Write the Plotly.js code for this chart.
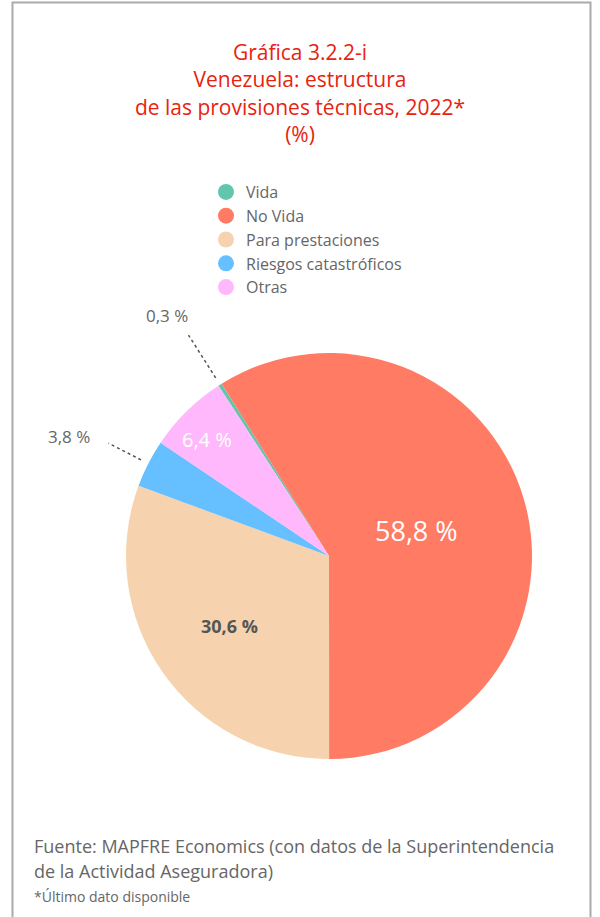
<!DOCTYPE html>
<html>
<head>
<meta charset="utf-8">
<script src="https://cdn.plot.ly/plotly-3.0.1.min.js"></script>
<style>html,body{margin:0;padding:0;background:#fff;}#chart{width:600px;height:917px;}</style>
</head>
<body>
<div id="chart"></div>
<script>
const categories = ['Vida', 'No Vida', 'Para prestaciones', 'Riesgos catastróficos', 'Otras'];
const values = [0.3, 58.8, 30.6, 3.8, 6.4];
const valueLabels = ['0,3 %', '58,8 %', '30,6 %', '3,8 %', '6,4 %'];
const colors = ['#62c6ad', '#ff7b64', '#f6d3ae', '#66bfff', '#ffb8fc'];

const titleText = 'Gráfica 3.2.2-i<br>Venezuela: estructura<br>de las provisiones técnicas, 2022*<br>(%)';
const sourceLines = ['Fuente: MAPFRE Economics (con datos de la Superintendencia', 'de la Actividad Aseguradora)'];
const noteText = '*Último dato disponible';

const W = 600, H = 917;
const CX = 329, CY = 556, R = 203;
const ROT = -33;
const FONT = '"Open Sans", Roboto, sans-serif';

// label style per slice: radius factor, angle offset, colour, size, weight
const labelR = [1.43, 0.45, 0.60, 1.41, 0.83];
const labelDA = [-1.5, 0, 0, -2.5, -1.8];
const labelColor = ['#666666', '#ffffff', '#555555', '#666666', '#ffffff'];
const labelSize = [17, 27, 18, 17, 20];
const labelBold = [false, false, true, false, false];
const leader = [[1.04, 1.29], null, null, [1.04, 1.22], null];

const total = values.reduce((a, b) => a + b, 0);
let acc = ROT;
const mids = values.map(v => { const a0 = acc; acc += 360 * v / total; return (a0 + acc) / 2; });
function pt(angDeg, r) {
  const a = angDeg * Math.PI / 180;
  return [(CX + r * Math.sin(a)) / W, 1 - (CY - r * Math.cos(a)) / H];
}

const annotations = [];
const shapes = [];
values.forEach((v, i) => {
  const p = pt(mids[i] + labelDA[i], labelR[i] * R);
  annotations.push({
    xref: 'paper', yref: 'paper', x: p[0], y: p[1], xanchor: 'center', yanchor: 'middle',
    text: labelBold[i] ? '<b>' + valueLabels[i] + '</b>' : valueLabels[i], showarrow: false,
    font: {family: FONT, size: labelSize[i], color: labelColor[i]}
  });
  if (leader[i]) {
    const a = pt(mids[i], leader[i][0] * R), b = pt(mids[i], leader[i][1] * R);
    shapes.push({type: 'line', xref: 'paper', yref: 'paper', x0: a[0], y0: a[1], x1: b[0], y1: b[1],
      line: {color: '#555555', width: 1.5, dash: 'dot'}});
  }
});

const footY = [846, 871];
sourceLines.forEach((t, i) => annotations.push({
  xref: 'paper', yref: 'paper', x: 32 / W, y: 1 - footY[i] / H, xanchor: 'left', yanchor: 'middle', align: 'left',
  text: t, showarrow: false, font: {family: FONT, size: 18, color: '#666666'}
}));
annotations.push({
  xref: 'paper', yref: 'paper', x: 32 / W, y: 1 - 896 / H, xanchor: 'left', yanchor: 'middle', align: 'left',
  text: noteText, showarrow: false, font: {family: FONT, size: 14, color: '#666666'}
});

// frame
shapes.push({type: 'rect', xref: 'paper', yref: 'paper', x0: 12.5 / W, x1: 590.5 / W, y0: -0.05, y1: 1 - 2.5 / H,
  line: {color: '#aaaaaa', width: 2}, layer: 'below'});

const pie = {
  type: 'pie', labels: categories, values: values, sort: false, direction: 'clockwise', rotation: ROT,
  marker: {colors: colors, line: {width: 0}}, textinfo: 'none', hoverinfo: 'label+percent', showlegend: false,
  domain: {x: [(CX - R) / W, (CX + R) / W], y: [1 - (CY + R) / H, 1 - (CY - R) / H]}
};

const legendTraces = categories.map((c, i) => ({
  type: 'scatter', mode: 'markers', x: [null], y: [null], name: c, legendgroup: 'g' + i,
  marker: {symbol: 'circle', size: 16, color: colors[i]}, hoverinfo: 'skip', showlegend: true
}));

const layout = {
  width: W, height: H, margin: {l: 0, r: 0, t: 0, b: 0},
  paper_bgcolor: '#ffffff', plot_bgcolor: 'rgba(0,0,0,0)',
  title: {text: titleText, x: 0.5, xanchor: 'center', y: 1 - 60 / H, yanchor: 'top',
    font: {family: FONT, size: 21, weight: 500, color: '#e8230f'}},
  xaxis: {visible: false, range: [0, 1]}, yaxis: {visible: false, range: [0, 1]},
  showlegend: true,
  legend: {x: 206 / W, xanchor: 'left', y: 1 - 175 / H, yanchor: 'top', bgcolor: 'rgba(0,0,0,0)',
    font: {family: FONT, size: 16, color: '#666666'}, tracegroupgap: 0, traceorder: 'normal'},
  annotations: annotations, shapes: shapes
};

Plotly.newPlot('chart', [pie].concat(legendTraces), layout, {displayModeBar: false, staticPlot: true});
</script>
</body>
</html>
